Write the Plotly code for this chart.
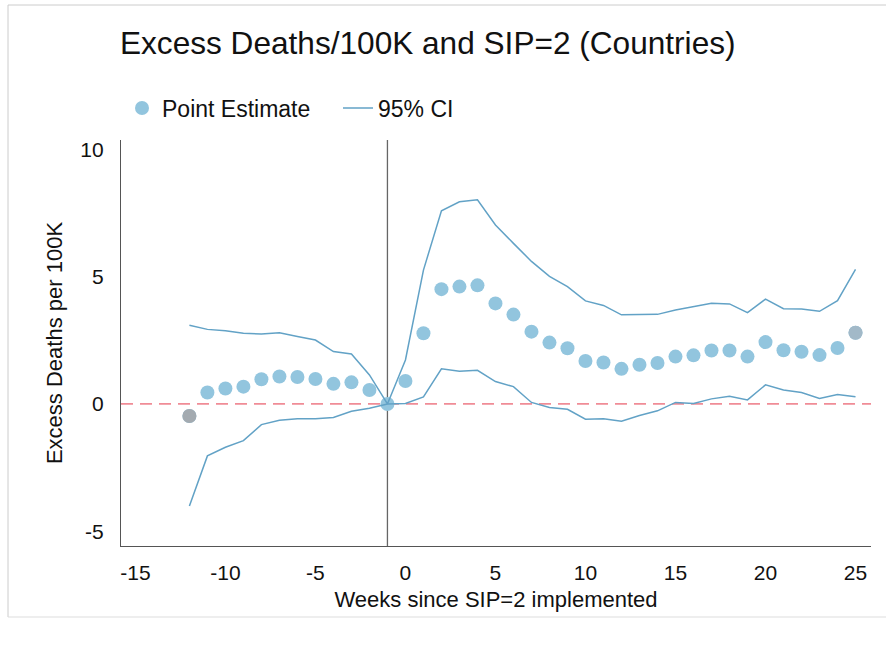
import plotly.graph_objects as go

weeks = list(range(-12, 26))
point_estimate = [-0.47, 0.45, 0.61, 0.68, 0.97, 1.08, 1.06, 0.98, 0.79, 0.85, 0.55, 0.0,
                  0.90, 2.78, 4.51, 4.61, 4.66, 3.95, 3.51, 2.84, 2.41, 2.19, 1.69, 1.63,
                  1.38, 1.54, 1.61, 1.86, 1.91, 2.10, 2.10, 1.86, 2.43, 2.11, 2.05, 1.92,
                  2.20, 2.80]
ci_upper = [3.09, 2.93, 2.88, 2.78, 2.75, 2.80, 2.65, 2.51, 2.06, 1.96, 1.14, 0.0,
            1.73, 5.26, 7.59, 7.94, 8.02, 7.03, 6.31, 5.60, 5.01, 4.61, 4.05, 3.87,
            3.50, 3.50, 3.52, 3.69, 3.83, 3.96, 3.93, 3.59, 4.12, 3.74, 3.73, 3.64,
            4.06, 5.29]
ci_lower = [-4.01, -2.04, -1.70, -1.44, -0.81, -0.64, -0.58, -0.58, -0.53, -0.29, -0.17, 0.0,
            0.02, 0.28, 1.38, 1.29, 1.32, 0.88, 0.68, 0.06, -0.14, -0.21, -0.60, -0.58,
            -0.68, -0.45, -0.27, 0.06, 0.02, 0.20, 0.30, 0.16, 0.75, 0.55, 0.45, 0.22,
            0.37, 0.28]
x_ticks = [-15, -10, -5, 0, 5, 10, 15, 20, 25]
y_ticks = [-5, 0, 5, 10]
ref_week = -1

W, H = 886, 646
L, R, T, B = 121, 15, 140, 100
pw, ph = W - L - R, H - T - B

dot_color = "#92c5de"
gray_dot = "#a3aab0"
line_color = "#62a2c6"

FONT = "Liberation Sans, Arial, Helvetica, sans-serif"

fig = go.Figure()
fig.add_trace(go.Scatter(x=weeks, y=point_estimate, mode="markers", name="Point Estimate",
                         marker=dict(color=dot_color, size=14, line=dict(width=0))))
fig.add_trace(go.Scatter(x=weeks, y=ci_upper, mode="lines", name="95% CI",
                         line=dict(color=line_color, width=1.5), legendgroup="ci"))
fig.add_trace(go.Scatter(x=weeks, y=ci_lower, mode="lines", name="95% CI",
                         line=dict(color=line_color, width=1.5), legendgroup="ci",
                         showlegend=False))
# the two end-point estimates are drawn grey in the reference
fig.add_trace(go.Scatter(x=[weeks[0], weeks[-1]], y=[point_estimate[0], point_estimate[-1]],
                         mode="markers", showlegend=False, hoverinfo="skip",
                         marker=dict(color=[gray_dot, "#a2b9c8"], size=14, line=dict(width=0))))


def px_x(p):
    return (p - L) / pw


def px_y(p):
    return (H - B - p) / ph


shapes = [
    dict(type="line", xref="x", yref="paper", x0=ref_week, x1=ref_week, y0=0, y1=1,
         line=dict(color="#666666", width=1.3), layer="below"),
    dict(type="line", xref="paper", yref="y", x0=0, x1=1, y0=0, y1=0,
         line=dict(color="#f08c96", width=1.8, dash="12px,7px"), layer="below"),
    # outer frame
    dict(type="line", xref="paper", yref="paper", x0=px_x(8), x1=px_x(886), y0=px_y(5), y1=px_y(5),
         line=dict(color="#cccccc", width=1)),
    dict(type="line", xref="paper", yref="paper", x0=px_x(8), x1=px_x(8), y0=px_y(5), y1=px_y(617),
         line=dict(color="#cccccc", width=1)),
    dict(type="line", xref="paper", yref="paper", x0=px_x(8), x1=px_x(886), y0=px_y(617), y1=px_y(617),
         line=dict(color="#dddddd", width=1)),
]

fig.update_layout(
    width=W, height=H,
    margin=dict(l=L, r=R, t=T, b=B),
    paper_bgcolor="white", plot_bgcolor="white",
    font=dict(family=FONT, color="#111111", size=22),
    title=dict(text="Excess Deaths/100K and SIP=2 (Countries)", x=120 / W,
               xanchor="left", y=1 - 43 / H, yanchor="middle",
               font=dict(size=31.6, family=FONT, color="#111111")),
    showlegend=True,
    legend=dict(orientation="h", x=px_x(122), xanchor="left", y=px_y(108), yanchor="middle",
                font=dict(size=23), bgcolor="rgba(0,0,0,0)", itemwidth=30,
                entrywidth=171, entrywidthmode="pixels",
                traceorder="normal"),
    xaxis=dict(range=[-15.8, 25.86], tickvals=x_ticks, ticktext=[str(v) for v in x_ticks],
               showgrid=False, zeroline=False,
               showline=True, linecolor="#555555", linewidth=1.2, ticks="",
               ticklabelstandoff=8, tickfont=dict(size=21),
               title=dict(text="Weeks since SIP=2 implemented", standoff=8, font=dict(size=22))),
    yaxis=dict(range=[-5.58, 10.37], tickvals=y_ticks, ticktext=[str(v) for v in y_ticks],
               showgrid=False, zeroline=False,
               showline=True, linecolor="#555555", linewidth=1.2, ticks="",
               ticklabelstandoff=12, tickfont=dict(size=21),
               title=dict(text="Excess Deaths per 100K", standoff=11, font=dict(size=22))),
    shapes=shapes,
)

fig.write_html("out.html", config={"displayModeBar": False},
               post_script="document.body.style.margin='0';document.body.style.overflow='hidden';")
